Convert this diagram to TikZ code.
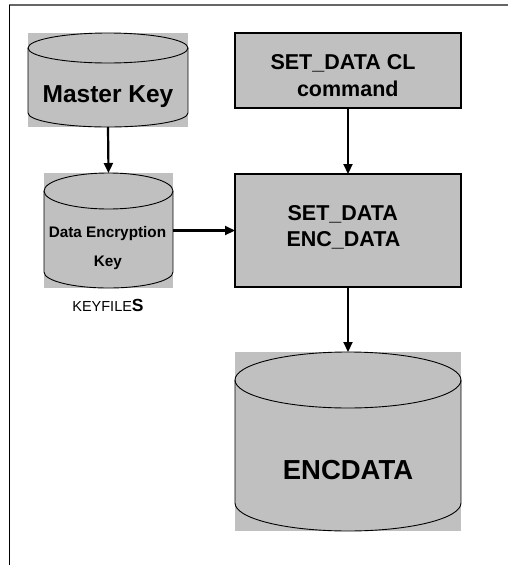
\documentclass[tikz,border=0pt]{standalone}
\usepackage{fontspec}
\setmainfont{Liberation Sans}
\usetikzlibrary{arrows.meta,calc}
\definecolor{fillgray}{HTML}{C0C0C0}
\definecolor{framegray}{HTML}{666666}

% outline of a drum drawn over its gray bounding box:
% #1 node, #2 x radius, #3 top y radius, #4 bottom y radius (all in pt)
\newcommand\drumoutline[4]{%
  \draw[drumline] ($(#1.north)+(0pt,-#3pt)$) ellipse [x radius=#2pt, y radius=#3pt];
  \draw[drumline] ($(#1.north west)+(0pt,-#3pt)$) -- ($(#1.south west)+(0pt,#4pt)$)
    arc [start angle=180, end angle=360, x radius=#2pt, y radius=#4pt]
    -- ($(#1.north east)+(0pt,-#3pt)$);
}

\begin{document}
\begin{tikzpicture}[x=1pt,y=-1pt,
  drumback/.style={fill=fillgray,draw=none,inner sep=0pt,outer sep=0pt},
  drumline/.style={line width=0.9pt,black},
  procbox/.style={fill=fillgray,draw=black,line width=1.2pt,inner sep=0pt,outer sep=0pt},
  lbl/.style={anchor=base,inner sep=0pt,font=\bfseries},
  flow/.style={line width=2.2pt,-{Triangle[length=10pt,width=9pt]}}]

\useasboundingbox (0,0) rectangle (508,565);

% page frame
\draw[framegray,line width=1.6pt] (508,5) -- (9,5);
\draw[black,line width=0.9pt] (9,5) -- (9,565);

% master key store
\node[drumback,minimum width=160pt,minimum height=94pt] (mk) at (108,80) {};
\drumoutline{mk}{80}{15}{14}
\node[lbl,font=\bfseries\fontsize{24.5}{28}\selectfont] (mkt) at (108,102) {Master Key};

% data encryption key store
\node[drumback,minimum width=129pt,minimum height=115pt] (dek) at (108.5,230.5) {};
\drumoutline{dek}{64.5}{18}{16}
\node[lbl,font=\bfseries\fontsize{15.3}{18}\selectfont] (dekt1) at (107.5,237.7) {Data Encryption};
\node[lbl,font=\bfseries\fontsize{15.3}{18}\selectfont] (dekt2) at (107.8,266) {Key};
\node[anchor=base,inner sep=0pt,font=\fontsize{14.5}{17}\selectfont] (kf) at (108,311.7)
  {KEYFILE{\bfseries\fontsize{17.5}{20}\selectfont S}};

% command box
\node[procbox,minimum width=226pt,minimum height=75pt] (cmd) at (348,70.5) {};
\node[lbl,font=\bfseries\fontsize{21.5}{25}\selectfont] (cmdt1) at (343,69) {SET\_DATA CL};
\node[lbl,font=\bfseries\fontsize{21.5}{25}\selectfont] (cmdt2) at (347.8,96) {command};

% processing box
\node[procbox,minimum width=226pt,minimum height=113pt] (enc) at (348,230.5) {};
\node[lbl,font=\bfseries\fontsize{21.5}{25}\selectfont] (enct1) at (342.8,220) {SET\_DATA};
\node[lbl,font=\bfseries\fontsize{21.5}{25}\selectfont] (enct2) at (343.5,246) {ENC\_DATA};

% encrypted data store
\node[drumback,minimum width=226pt,minimum height=179pt] (ed) at (348,441.5) {};
\drumoutline{ed}{113}{28}{28}
\node[lbl,font=\bfseries\fontsize{27.5}{32}\selectfont] (edt) at (348,479) {ENCDATA};

% connectors
\draw[flow] (mk.south) -- (dek.north);
\draw[flow] (dek.east) -- (dek.east -| enc.west);
\draw[flow] (cmd.south) -- (enc.north);
\draw[flow] (enc.south) -- (ed.north);

\end{tikzpicture}
\end{document}
